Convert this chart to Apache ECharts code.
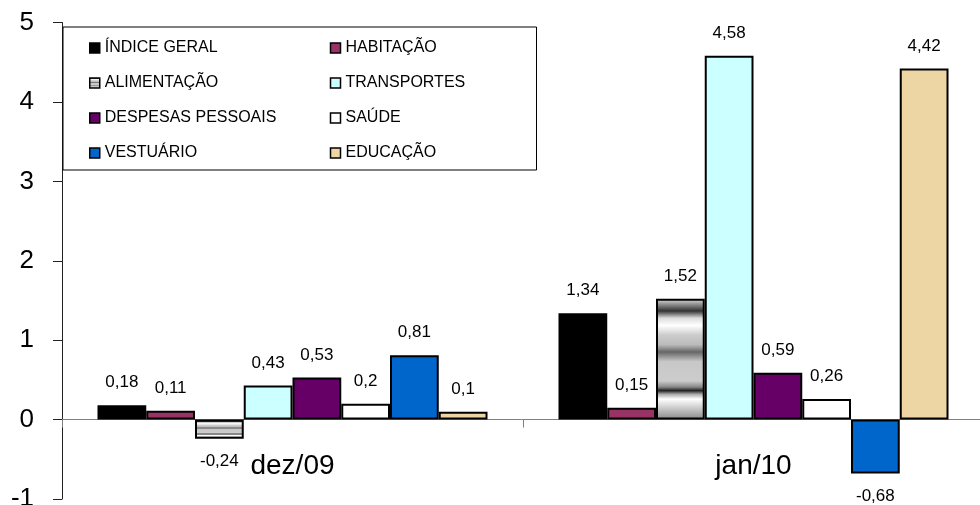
<!DOCTYPE html>
<html>
<head>
<meta charset="utf-8">
<script src="https://cdn.jsdelivr.net/npm/echarts@6/dist/echarts.min.js"></script>
<style>
html,body{margin:0;padding:0;background:#fff;}
#chart{width:980px;height:505px;}
</style>
</head>
<body>
<div id="chart"></div>
<script>
var categories = ['dez/09', 'jan/10'];
var seriesNames = ['ÍNDICE GERAL', 'HABITAÇÃO', 'ALIMENTAÇÃO', 'TRANSPORTES', 'DESPESAS PESSOAIS', 'SAÚDE', 'VESTUÁRIO', 'EDUCAÇÃO'];
var valuesDez09 = [0.18, 0.11, -0.24, 0.43, 0.53, 0.2, 0.81, 0.1];
var valuesJan10 = [1.34, 0.15, 1.52, 4.58, 0.59, 0.26, -0.68, 4.42];
var yTicks = [-1, 0, 1, 2, 3, 4, 5];

var FONT = '"Liberation Sans", Arial, sans-serif';
var metal = {
  type: 'linear', x: 0, y: 0, x2: 0, y2: 1,
  colorStops: [
    {offset: 0, color: '#e0e0e0'}, {offset: 0.04, color: '#999'},
    {offset: 0.1, color: '#333'}, {offset: 0.16, color: '#ddd'},
    {offset: 0.22, color: '#fff'}, {offset: 0.3, color: '#ccc'},
    {offset: 0.38, color: '#bbb'}, {offset: 0.44, color: '#666'},
    {offset: 0.52, color: '#c8c8c8'}, {offset: 0.68, color: '#ccc'},
    {offset: 0.73, color: '#888'}, {offset: 0.76, color: '#222'},
    {offset: 0.79, color: '#aaa'}, {offset: 0.83, color: '#fff'},
    {offset: 1, color: '#888'}
  ]
};
var colors = ['#000000', '#993366', metal, '#CCFFFF', '#660066', '#FFFFFF', '#0066CC', '#EED6A4'];

function fmt(v) { return String(v).replace('.', ','); }

var series = seriesNames.map(function (name, i) {
  var vals = [valuesDez09[i], valuesJan10[i]];
  return {
    name: name,
    type: 'bar',
    barGap: '0%',
    barCategoryGap: '15.4%',
    itemStyle: {color: colors[i], borderColor: '#000', borderWidth: 2},
    emphasis: {disabled: true},
    data: vals.map(function (v) {
      return {value: v, label: {position: v < 0 ? 'bottom' : 'top'}};
    }),
    label: {
      show: true,
      distance: 14,
      color: '#000',
      fontFamily: FONT,
      fontSize: 17,
      formatter: function (p) { return fmt(p.value); }
    }
  };
});

var GRID_BOTTOM = 6;
var chart = echarts.init(document.getElementById('chart'), null, {renderer: 'canvas'});
chart.setOption({
  animation: false,
  backgroundColor: '#fff',
  grid: {left: 62, top: 22.5, bottom: GRID_BOTTOM, width: 922, containLabel: false, outerBoundsMode: 'none'},
  legend: {
    left: 63, top: 27, width: 430,
    orient: 'horizontal',
    backgroundColor: '#fff',
    borderColor: '#000', borderWidth: 1,
    padding: [13, 21, 9, 26],
    itemWidth: 10, itemHeight: 10, itemGap: 19,
    icon: 'rect',
    itemStyle: {borderColor: '#000', borderWidth: 1.5},
    selectedMode: false,
    data: seriesNames,
    formatter: function (name) {
      return (seriesNames.indexOf(name) % 2 === 0 ? '{a|' : '{b|') + name + '}';
    },
    textStyle: {
      color: '#000', fontFamily: FONT, fontSize: 16, lineHeight: 16,
      rich: {
        a: {width: 206, lineHeight: 16, fontSize: 16, fontFamily: FONT, color: '#000'},
        b: {width: 170, lineHeight: 16, fontSize: 16, fontFamily: FONT, color: '#000'}
      }
    }
  },
  xAxis: {
    type: 'category',
    data: categories,
    offset: 0,
    axisLine: {onZero: false, lineStyle: {color: '#808080', width: 1}},
    axisTick: {show: true, length: 8, lineStyle: {color: '#808080'}},
    axisLabel: {color: '#000', fontFamily: FONT, fontSize: 28, margin: 33}
  },
  yAxis: {
    type: 'value',
    min: yTicks[0], max: yTicks[yTicks.length - 1], interval: 1,
    splitLine: {show: false},
    axisLine: {show: true, lineStyle: {color: '#222', width: 1}},
    axisTick: {show: true, length: 9, lineStyle: {color: '#222'}},
    axisLabel: {color: '#000', fontFamily: FONT, fontSize: 26, margin: 28,
      formatter: function (v) { return fmt(v); }}
  },
  series: series
});
// move the category axis (line, ticks, labels) up to the value 0 of the y axis
var zeroY = chart.convertToPixel({yAxisIndex: 0}, 0);
var bottomY = chart.convertToPixel({yAxisIndex: 0}, yTicks[0]);
chart.setOption({xAxis: {offset: zeroY - bottomY}});
</script>
</body>
</html>
